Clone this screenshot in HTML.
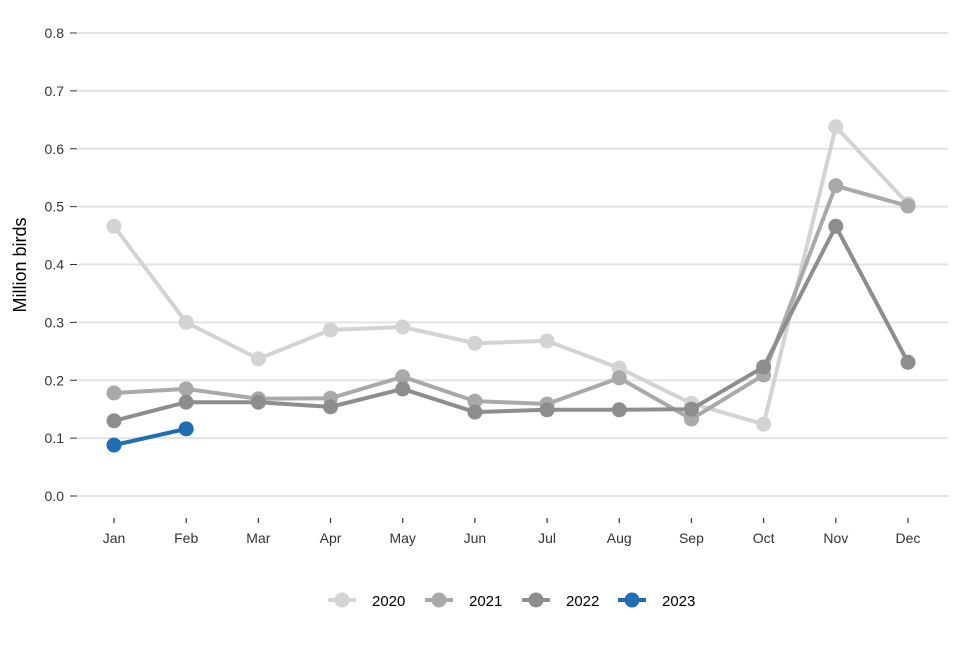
<!DOCTYPE html>
<html><head><meta charset="utf-8"><style>
body{margin:0;background:#fff;font-family:"Liberation Sans",Arial,sans-serif}
svg text{font-family:"Liberation Sans",Arial,sans-serif}
</style></head><body>
<svg id="chart" width="960" height="640" viewBox="0 0 960 640" xmlns="http://www.w3.org/2000/svg">
<g id="grid"></g>
<g id="yaxis"></g>
<g id="xaxis"></g>
<text transform="translate(26,265) rotate(-90)" text-anchor="middle" font-size="18" fill="#000">Million birds</text>
<g id="series"></g>
<g id="legend"></g>
</svg>
<script>
const months = ["Jan","Feb","Mar","Apr","May","Jun","Jul","Aug","Sep","Oct","Nov","Dec"];
const yTicks = [0,0.1,0.2,0.3,0.4,0.5,0.6,0.7,0.8];
const seriesNames = ["2020","2021","2022","2023"];
const v2020 = [0.466,0.300,0.237,0.287,0.292,0.264,0.268,0.221,0.160,0.124,0.638,0.505];
const v2021 = [0.178,0.185,0.168,0.169,0.206,0.164,0.159,0.204,0.133,0.209,0.536,0.501];
const v2022 = [0.130,0.162,0.162,0.154,0.185,0.145,0.149,0.149,0.150,0.223,0.466,0.231];
const v2023 = [0.088,0.116];
const colors = ["#d3d3d3","#aaa8a8","#8f8c8c","#1f6db5"];
const NS="http://www.w3.org/2000/svg";
const x = i => 114 + i*72.18;
const y = v => 496 - v*578.75;
function mk(tag, attrs, parent){const e=document.createElementNS(NS,tag);for(const k in attrs)e.setAttribute(k,attrs[k]);parent.appendChild(e);return e;}
const grid=document.getElementById('grid'), ya=document.getElementById('yaxis'), xa=document.getElementById('xaxis');
yTicks.forEach(t=>{
  const l=mk('line',{x1:78,x2:948,y1:y(t),y2:y(t),stroke:'#e3e3e3','stroke-width':2},grid);
  
  
  const tk=mk('line',{x1:70,x2:77,y1:y(t),y2:y(t),stroke:'#333','stroke-width':1},ya);
  
  
  const tx=mk('text',{x:64,y:y(t)+5,'text-anchor':'end','font-size':14,fill:'#333'},ya);
  tx.textContent=t.toFixed(1);
  
  
});
months.forEach((m,i)=>{
  const tk=mk('line',{x1:x(i),x2:x(i),y1:518,y2:523,stroke:'#333','stroke-width':1.2},xa);
  
  
  const tx=mk('text',{x:x(i),y:543,'text-anchor':'middle','font-size':14,fill:'#333'},xa);
  tx.textContent=m;
  
  
});
const sg=document.getElementById('series');
[v2020,v2021,v2022,v2023].forEach((vals,s)=>{
  const g=mk('g',{},sg);
  
  
  const pl=mk('polyline',{points:vals.map((v,i)=>x(i)+','+y(v)).join(' '),fill:'none',stroke:colors[s],'stroke-width':4,'stroke-linejoin':'round'},g);
  
  
  vals.forEach((v,i)=>{
    const c=mk('circle',{cx:x(i),cy:y(v),r:7.5,fill:colors[s]},g);
    
    
  });
});
const lg=document.getElementById('legend');
const lx=[342,439,536,632];
seriesNames.forEach((n,s)=>{
  const g=mk('g',{},lg);
  
  
  mk('line',{x1:lx[s]-14,x2:lx[s]+14,y1:600,y2:600,stroke:colors[s],'stroke-width':4},g);
  mk('circle',{cx:lx[s],cy:600,r:7.5,fill:colors[s]},g);
  const t=mk('text',{x:lx[s]+30,y:606,'font-size':15,fill:'#000'},g);
  t.textContent=n;
});
</script>
</body></html>
